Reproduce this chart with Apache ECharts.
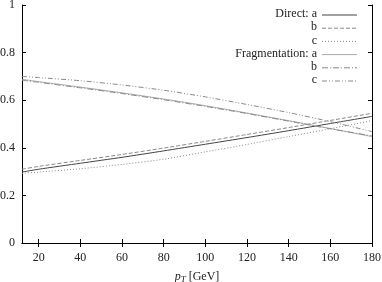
<!DOCTYPE html>
<html><head><meta charset="utf-8">
<script src="https://cdn.jsdelivr.net/npm/echarts@6/dist/echarts.min.js"></script>
<style>html,body{margin:0;padding:0;background:#fff}#c{width:382px;height:282px}</style>
</head><body><div id="c"></div>
<script>
const pT = [12, 20, 40, 60, 80, 100, 120, 140, 160, 180];
const directA = [0.298, 0.310, 0.335, 0.360, 0.387, 0.415, 0.443, 0.472, 0.502, 0.532];
const directB = [0.310, 0.322, 0.347, 0.372, 0.399, 0.427, 0.456, 0.485, 0.515, 0.545];
const directC = [0.293, 0.298, 0.312, 0.330, 0.352, 0.383, 0.414, 0.447, 0.480, 0.514];
const fragA = [0.688, 0.678, 0.655, 0.631, 0.605, 0.577, 0.546, 0.514, 0.481, 0.447];
const fragB = [0.684, 0.675, 0.652, 0.628, 0.602, 0.574, 0.544, 0.512, 0.480, 0.450];
const fragC = [0.700, 0.695, 0.682, 0.664, 0.642, 0.614, 0.582, 0.548, 0.510, 0.468];
const xTicks = [20, 40, 60, 80, 100, 120, 140, 160, 180];
const seriesNames = ['Direct: a', 'Direct: b', 'Direct: c', 'Fragmentation: a', 'Fragmentation: b', 'Fragmentation: c'];
const legendLabels = ['Direct: a', 'b', 'c', 'Fragmentation: a', 'b', 'c'];

const font = 'Liberation Serif';
const styles = [
  {color: '#444', type: 'solid'},
  {color: '#888', type: [4, 2]},
  {color: '#888', type: [1, 2]},
  {color: '#aaa', type: 'solid'},
  {color: '#888', type: [6, 2, 1, 2]},
  {color: '#888', type: [5, 2, 1, 2, 1, 2]}
];
const dataSets = [directA, directB, directC, fragA, fragB, fragC];

const legendGraphics = [];
legendLabels.forEach((lab, i) => {
  const y = 15 + i * 13.2;
  legendGraphics.push({type: 'text', right: 382 - 317, top: y - 7,
    style: {text: lab, fontFamily: font, fontSize: 12, fill: '#222', textAlign: 'right'}});
  legendGraphics.push({type: 'line', shape: {x1: 322, y1: y, x2: 357, y2: y},
    style: {stroke: styles[i].color, lineWidth: 1, lineDash: styles[i].type === 'solid' ? null : styles[i].type}});
});

const chart = echarts.init(document.getElementById('c'), null, {renderer: 'canvas'});
const axisCommon = {
  axisLine: {show: true, lineStyle: {color: '#000', width: 1}},
  splitLine: {show: false},
};
chart.setOption({
  animation: false,
  grid: {left: 22, right: 10, top: 5, bottom: 39, outerBoundsMode: 'none', containLabel: false},
  textStyle: {fontFamily: font},
  graphic: legendGraphics,
  xAxis: [{
    type: 'value', min: 12, max: 180, ...axisCommon,
    axisTick: {inside: true, length: 4, customValues: xTicks, lineStyle: {color: '#000'}},
    axisLabel: {customValues: xTicks, fontFamily: font, fontSize: 12, color: '#222', margin: 9},
    name: '{i|p}{s|T} [GeV]', nameLocation: 'middle', nameGap: 27,
    nameTextStyle: {fontFamily: font, fontSize: 12, color: '#222', rich: {
      i: {fontFamily: font, fontStyle: 'italic', fontSize: 12, color: '#222'},
      s: {fontFamily: font, fontStyle: 'italic', fontSize: 9, color: '#222', verticalAlign: 'bottom', padding: [5, 0, 0, 0]}
    }}
  }, {
    type: 'value', min: 12, max: 180, position: 'top', ...axisCommon,
    axisTick: {inside: true, length: 4, customValues: xTicks, lineStyle: {color: '#000'}},
    axisLabel: {show: false}
  }],
  yAxis: [{
    type: 'value', min: 0, max: 1, interval: 0.2, ...axisCommon,
    axisTick: {inside: true, length: 4, lineStyle: {color: '#000'}},
    axisLabel: {fontFamily: font, fontSize: 12, color: '#222', margin: 7, formatter: v => String(+v.toFixed(1))}
  }, {
    type: 'value', min: 0, max: 1, interval: 0.2, position: 'right', ...axisCommon,
    axisTick: {inside: true, length: 4, lineStyle: {color: '#000'}},
    axisLabel: {show: false}
  }],
  series: seriesNames.map((n, i) => ({
    name: n, type: 'line', symbol: 'none', smooth: 0.2,
    data: pT.map((x, j) => [x, dataSets[i][j]]),
    lineStyle: {color: styles[i].color, type: styles[i].type, width: 1},
    itemStyle: {color: styles[i].color}
  }))
});
</script></body></html>
